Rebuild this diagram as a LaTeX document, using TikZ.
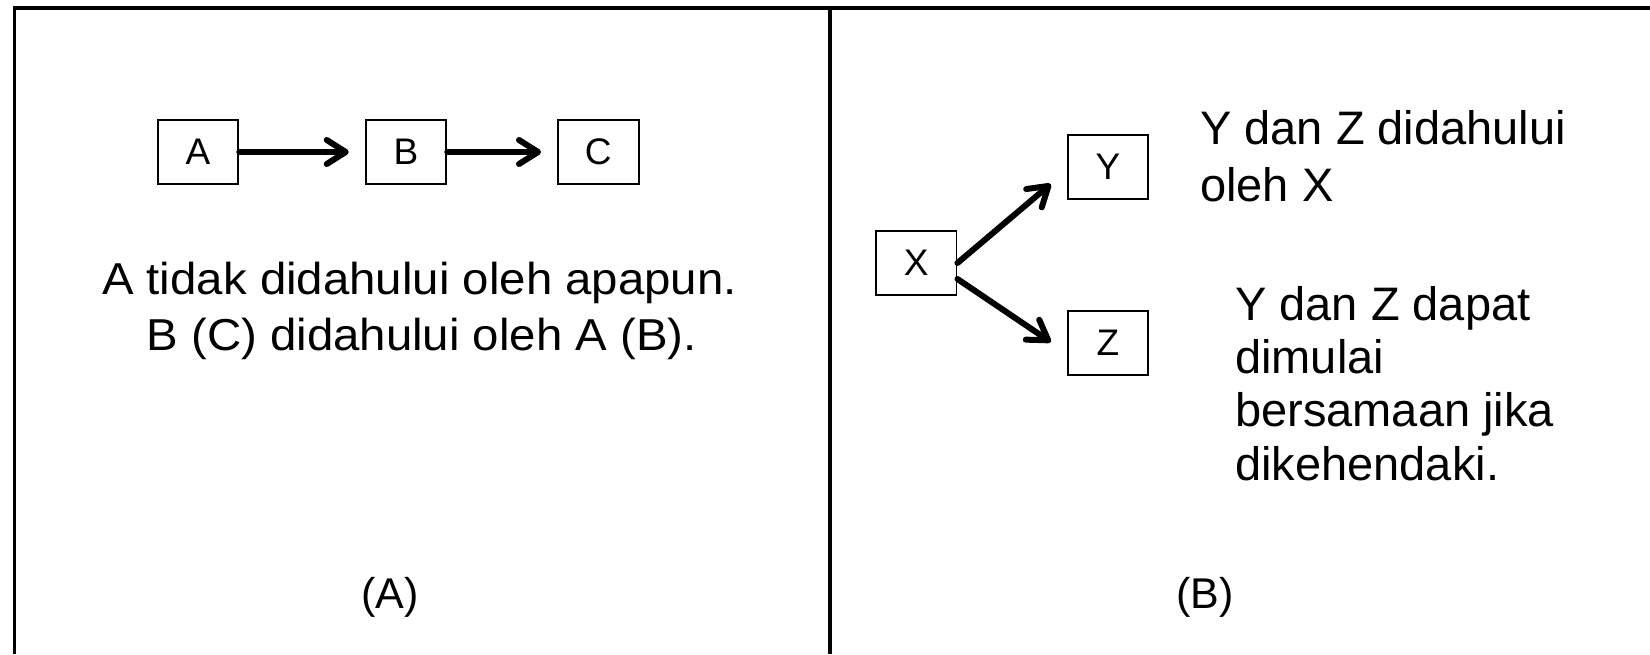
\documentclass[tikz,border=0pt]{standalone}
\usepackage{fontspec}
\setmainfont{Liberation Sans}
\newfontfamily\capfont{Liberation Sans}[FakeStretch=1.06]
\usetikzlibrary{arrows.meta}
\begin{document}
\begin{tikzpicture}[x=1pt,y=-1pt,
  frame/.style={line width=3.4pt},
  box/.style={draw, line width=1.9pt, minimum width=80.6pt, minimum height=64pt,
    inner sep=0pt, font=\fontsize{37}{37}\selectfont},
  arr/.style={line width=6pt, line cap=round,
    -{Straight Barb[length=19pt,width=24pt,line cap=round,line join=round]}},
  lcap/.style={anchor=base, inner sep=0pt, font=\capfont\fontsize{44.7}{56}\selectfont},
  rtext/.style={anchor=base west, inner sep=0pt, font=\fontsize{47}{53}\selectfont},
  panel/.style={anchor=base, inner sep=0pt, font=\fontsize{43}{50}\selectfont}]
\useasboundingbox (0,0) rectangle (1650,654);
% frame
\draw[frame] (14.5,654) -- (14.5,8) -- (1650,8);
\draw[frame] (830,6) -- (830,654);
% panel A
\node[box] (A) at (198,152) {A};
\node[box] (B) at (406,152) {B};
\node[box] (C) at (598.3,152) {C};
\draw[arr, shorten >=16pt] (A.east) -- (B.west);
\draw[arr, shorten >=16pt] (B.east) -- (C.west);
\node[lcap] (t1) at (419.5,294.3) {A tidak didahului oleh apapun.};
\node[lcap] (t2) at (421.7,350) {B (C) didahului oleh A (B).};
\node[panel] (pa) at (390,608) {(A)};
% panel B
\node[box] (X) at (916.2,263) {X};
\node[box] (Y) at (1108,167) {Y};
\node[box] (Z) at (1108,343) {Z};
\coordinate (ytip) at ([xshift=-16pt,yshift=-17pt]Y.west);
\coordinate (ztip) at ([xshift=-16pt,yshift=1pt]Z.west);
\coordinate (xlow) at ([yshift=-16pt]X.east);
\draw[arr] (X.east) -- (ytip);
\draw[arr] (xlow) -- (ztip);
\node[rtext] (r1) at (1200,144) {Y dan Z didahului};
\node[rtext] (r2) at (1200,201) {oleh X};
\node[rtext] (s1) at (1235,320) {Y dan Z dapat};
\node[rtext] (s2) at (1235,373.3) {dimulai};
\node[rtext] (s3) at (1235,426.7) {bersamaan jika};
\node[rtext] (s4) at (1235,480) {dikehendaki.};
\node[panel] (pb) at (1205,608) {(B)};
\end{tikzpicture}
\end{document}
